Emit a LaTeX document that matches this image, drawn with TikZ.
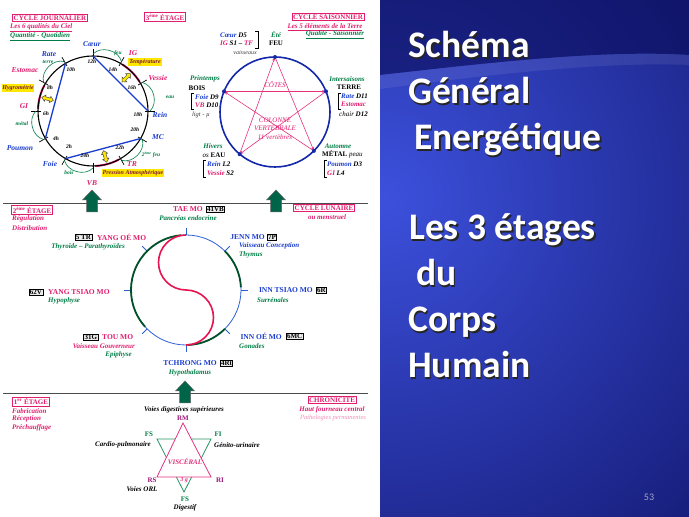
\documentclass[tikz,border=0pt]{standalone}
\usepackage{fontspec}
\setmainfont{Liberation Serif}
\newfontfamily\titlefont{Carlito}
\usetikzlibrary{calc,arrows.meta}
\definecolor{pk}{RGB}{225,30,110}
\definecolor{bl}{RGB}{25,60,205}
\definecolor{gn}{RGB}{0,125,70}
\definecolor{dgn}{RGB}{0,80,40}
\definecolor{pu}{RGB}{155,20,120}
\definecolor{yl}{RGB}{255,232,0}
\definecolor{arrg}{RGB}{0,100,72}
\definecolor{dbl}{RGB}{20,40,170}
\definecolor{lbl}{RGB}{45,95,215}
\definecolor{bglight}{RGB}{60,80,220}
\definecolor{bgdark}{RGB}{8,10,85}
\definecolor{spk}{RGB}{228,50,125}
\definecolor{stg}{RGB}{40,150,100}
\definecolor{rds}{RGB}{230,20,80}
\newcommand\fs[1]{\fontsize{#1}{#1}\selectfont}
\newcommand\garrow[2]{\draw[garr] (#1-5.5,#2) -- (#1+5.5,#2) -- (#1+5.5,#2+12) -- (#1+9.5,#2+12) -- (#1,#2+22) -- (#1-9.5,#2+12) -- (#1-5.5,#2+12) -- cycle;}
\tikzset{
  t/.style={inner sep=0pt, font=\fs{7}\bfseries\itshape},
  tp/.style={t, text=pk},
  tb/.style={t, text=bl},
  tg/.style={t, text=gn},
  tn/.style={inner sep=0pt, font=\fs{6.5}\itshape, text=black!75},
  up/.style={inner sep=0pt, font=\fs{7}\bfseries},
  org/.style={inner sep=0pt, font=\fs{7.5}\bfseries\itshape},
  hr/.style={inner sep=0pt, font=\fs{5.5}\bfseries\itshape, text=black},
  gsm/.style={inner sep=0pt, font=\fs{5.5}\bfseries\itshape, text=gn},
  hl/.style={fill=yl, inner sep=0.8pt, font=\fs{6}\bfseries\itshape, text=pk!55!black},
  ttl/.style={draw=pk, line width=0.6pt, fill=white, text=pk, font=\fs{7}\bfseries, inner sep=1.2pt},
  code/.style={draw=black, line width=0.5pt, fill=black!8, text=black, font=\fs{7}\bfseries, inner sep=0.8pt},
  mo/.style={inner sep=0pt, font=\fs{7.5}\bfseries},
  big/.style={anchor=base west, inner sep=0pt, text=white, font=\titlefont\fs{37.5}\bfseries},
  bigsh/.style={big, text=black!85},
  tickl/.style={line width=0.7pt},
  chord/.style={bl, line width=1.3pt},
  redarc/.style={pk, line width=2pt},
  garc/.style={gn, line width=0.6pt},
  yarr/.style={fill=yl, draw=black!70, line width=0.5pt},
  garr/.style={fill=arrg, draw=black!60, line width=0.5pt},
  penta/.style={spk, line width=0.6pt, -{Stealth[length=4pt,width=3pt]}},
  brk/.style={black, line width=0.5pt},
  inner/.style={inner sep=0pt, font=\fs{7}\itshape, text=pk},
}
\begin{document}
\begin{tikzpicture}[x=1pt,y=1pt]
\useasboundingbox (0,0) rectangle (689,517);
\fill[white] (0,0) rectangle (380,517);
% ---------- right panel background ----------
\begin{scope}
  \clip (380,0) rectangle (689,517);
  \fill[bgdark] (380,0) rectangle (689,517);
  \shade[inner color=bglight, outer color=bgdark] (385,320) circle (620);
  \fill[bgdark, opacity=0.6] (380,517) -- (689,517) -- (689,462) .. controls (600,468) and (470,452) .. (380,442) -- cycle;
  \fill[white, opacity=0.08] (380,442) .. controls (470,452) and (600,468) .. (689,462) -- (689,452) .. controls (600,456) and (470,440) .. (380,428) -- cycle;
\end{scope}
\foreach \txt/\xx/\yy [count=\i] in {Schéma/408/459, Général/408/413, Energétique/414/367, Les 3 étages/409/277, du/416/231, Corps/408/185, Humain/408/139}{
  \node[bigsh] at (\xx+1.5,\yy-1.5) {\txt};
  \node[big] (title\i) at (\xx,\yy) {\txt};
}
\node[font=\titlefont\fs{10}, text={rgb,255:red,160;green,165;blue,195}] (pg) at (649,20) {53};
% ---------- separators and arrows ----------
\coordinate (l1a) at (3,314); \coordinate (l1b) at (368,314);
\coordinate (l2a) at (3,124); \coordinate (l2b) at (368,124);
\draw[black!70, line width=0.8pt] (l1a) -- (l1b);
\draw[black!70, line width=0.8pt] (l2a) -- (l2b);
\garrow{92}{305}
\garrow{276}{305}
\garrow{185}{114}
% ---------- 3rd stage: daily cycle ----------
\node[ttl] (cj) at (50,499) {CYCLE JOURNALIER};
\node[tp, anchor=west] (cj2) at (10,489) {\underline{Les 6 qualités du Ciel}};
\node[tg, anchor=west] (cj3) at (10,480) {\underline{Quantité - Quotidien}};
\node[ttl] (e3) at (165,500) {3\textsuperscript{ème} ÉTAGE};
\coordinate (D) at (93,406);
\draw[redarc] ($(D)+(32:55)$) arc[start angle=32,end angle=58,radius=55];
\draw[redarc] ($(D)+(152:55)$) arc[start angle=152,end angle=178,radius=55];
\draw[redarc] ($(D)+(272:55)$) arc[start angle=272,end angle=298,radius=55];
\draw[black, line width=1.1pt] (D) circle (55);
\foreach \a in {0,30,...,330} \draw[tickl] ($(D)+(\a:52)$) -- ($(D)+(\a:62)$);
\foreach \n/\a in {Coeur/90, Rein/0, Rate/120, Poumon/210, Foie/240, MC/330} \coordinate (h\n) at ($(D)+(\a:55)$);
\draw[chord] (hCoeur) -- (hRein);
\draw[chord] (hRate) -- (hPoumon);
\draw[chord] (hFoie) -- (hMC);
\foreach \a/\b in {90/60, 30/0, -30/-60, -90/-120, -150/-180, 150/120}
  \draw[garc] ($(D)+(\a:57)$) .. controls ($(D)+(\a-7:66)$) and ($(D)+(\b+7:66)$) .. ($(D)+(\b:57)$);
\foreach \a in {45,165,285}
  \draw[yarr, shift={($(D)+(\a:47)$)}, rotate=\a] (-6,0) -- (-2.5,3.2) -- (-2.5,1.5) -- (2.5,1.5) -- (2.5,3.2) -- (6,0) -- (2.5,-3.2) -- (2.5,-1.5) -- (-2.5,-1.5) -- (-2.5,-3.2) -- cycle;
\node[org, text=bl] (coeur) at (92,473) {Cœur};
\node[org, text=pk] (ig) at (133,464) {IG};
\node[gsm] (feu1) at (118,464) {feu};
\node[hl] (temp) at (145,455) {Température};
\node[org, text=pk] (vessie) at (158,439) {Vessie};
\node[gsm] (eau1) at (170,420) {eau};
\node[org, text=bl] (rein) at (160,402) {Rein};
\node[org, text=bl] (mc) at (158,380) {MC};
\node[gsm] (feu2) at (151,362) {2\textsuperscript{ème} feu};
\node[org, text=pk] (tr) at (132,353) {TR};
\node[hl] (pa) at (133,344) {Pression Atmosphérique};
\node[org, text=pk] (vb) at (92,334) {VB};
\node[gsm] (bois1) at (69,344) {bois};
\node[org, text=bl] (foie) at (50,353) {Foie};
\node[org, text=bl] (poumon) at (20,369) {Poumon};
\node[gsm] (metal1) at (22,393) {métal};
\node[org, text=pk] (gi) at (24,411) {GI};
\node[hl] (hyg) at (18,429) {Hygrométrie};
\node[org, text=pk] (estomac) at (25,447) {Estomac};
\node[gsm] (terre1) at (48,455) {terre};
\node[org, text=bl] (rate) at (49,463) {Rate};
\foreach \h/\x/\y in {12h/92/455, 14h/113/447, 16h/132/429, 18h/138/402, 20h/135/387, 22h/120/369, 24h/85/361, 2h/69/370, 4h/56/378, 6h/46/403, 8h/50/429, 10h/71/447}
  \node[hr] (hr\h) at (\x,\y) {\h};
% ---------- 3rd stage: seasonal cycle ----------
\node[ttl] (cs) at (328,500) {CYCLE SAISONNIER};
\node[tp] (cs2) at (325,490) {\underline{Les 5 éléments de la Terre}};
\node[tg] (cs3) at (335,482) {\underline{Qualité - Saisonnier}};
\coordinate (S) at (275,405);
\draw[dbl, line width=1.6pt] (S) circle (55);
\foreach \n/\a in {feu/90, terre/22, metal/-45, eau/-130, bois/158} \coordinate (p\n) at ($(S)+(\a:55)$);
\draw[penta] (pfeu) -- (pmetal);
\draw[penta] (pmetal) -- (pbois);
\draw[penta] (pbois) -- (pterre);
\draw[penta] (pterre) -- (peau);
\draw[penta] (peau) -- (pfeu);
\foreach \n in {feu,terre,metal,eau,bois} \fill[dbl] (p\n) circle (2);
\node[inner] (cotes) at (275,432) {CÔTES};
\node[inner] (col1) at (275,397) {COLONNE};
\node[inner] (col2) at (275,389) {VERTÉBRALE};
\node[inner] (col3) at (275,380) {11 vertèbres};
\node[t, anchor=west] (c5) at (220,482) {\textcolor{bl}{Cœur} D5};
\node[t, anchor=west] (ig5) at (220,474) {\textcolor{pk}{IG} S1 -- \textcolor{pk}{TF}};
\draw[brk] (255,486) -- (258,486) -- (258,469) -- (255,469);
\node[tg] (ete) at (276,482) {Été};
\node[up] (feu) at (276,474) {FEU};
\node[tn, font=\fs{6}\itshape] (vais) at (245,464) {vaisseaux};
\node[tg] (print) at (205,438) {Printemps};
\node[up] (bois) at (197,429) {BOIS};
\draw[brk] (194,424) -- (191,424) -- (191,408) -- (194,408);
\node[t, anchor=west] (foie9) at (195,420) {\textcolor{bl}{Foie} D9};
\node[t, anchor=west] (vb10) at (195,412) {\textcolor{pk}{VB} D10};
\node[tn] (ligt) at (201,402) {ligt - µ};
\node[tg] (inter) at (347,438) {Intersaisons};
\node[up] (terre) at (349,430) {TERRE};
\draw[brk] (341,424) -- (338,424) -- (338,408) -- (341,408);
\node[t, anchor=west] (rate11) at (341,421) {\textcolor{bl}{Rate} D11};
\node[tp, anchor=west] (est12) at (341,413) {Estomac};
\node[t, anchor=west] (chair) at (339,403) {{\mdseries chair} D12};
\node[tg] (hiv) at (213,371) {Hivers};
\node[up] (eau) at (214,362) {{\mdseries\itshape os} EAU};
\draw[brk] (206,357) -- (203,357) -- (203,340) -- (206,340);
\node[t, anchor=west] (reinl2) at (207,353) {\textcolor{bl}{Rein} L2};
\node[t, anchor=west] (vesss2) at (207,344) {\textcolor{pk}{Vessie} S2};
\node[tg] (aut) at (338,371) {Automne};
\node[up, anchor=west] (metal) at (322,363) {MÉTAL {\mdseries\itshape peau}};
\draw[brk] (327,357) -- (324,357) -- (324,340) -- (327,340);
\node[t, anchor=west] (poud3) at (327,353) {\textcolor{bl}{Poumon} D3};
\node[t, anchor=west] (gil4) at (327,344) {\textcolor{pk}{GI} L4};
% ---------- 2nd stage ----------
\node[ttl] (e2) at (32,307) {2\textsuperscript{ème} ÉTAGE};
\node[tp, anchor=west] (reg) at (12,298) {Régulation};
\node[tp, anchor=west] (dis) at (12,289) {Distribution};
\node[ttl] (cl) at (324,309) {CYCLE LUNAIRE};
\node[tp] (men) at (327,300) {ou menstruel};
\coordinate (L) at (186,227);
\draw[lbl, line width=0.8pt] (L) circle (55);
\foreach \a in {0,45,...,315} \draw[lbl, line width=0.8pt] ($(L)+(\a:55)$) -- ($(L)+(\a:62)$);
\draw[dgn, line width=1.8pt] ($(L)+(95:55)$) arc[start angle=95,end angle=222,radius=55];
\draw[dgn, line width=1.8pt] ($(L)+(45:55)$) arc[start angle=45,end angle=3,radius=55];
\draw[dgn, line width=1.8pt] ($(L)+(-45:55)$) arc[start angle=-45,end angle=-88,radius=55];
\draw[rds, line width=1.6pt] ($(L)+(90:55)$) arc[start angle=90,end angle=270,radius=27.5] arc[start angle=90,end angle=-90,radius=27.5];
\node[mo, text=pk, anchor=east] (tae) at (203,308) {TAE MO};
\node[code, anchor=west] (c41) at (206,308) {41VB};
\node[tg] (panc) at (188,299) {Pancréas endocrine};
\node[mo, text=bl, anchor=east] (jenn) at (265,280) {JENN MO};
\node[code, anchor=west] (c7) at (267,280) {7P};
\node[tb, anchor=west] (vc) at (239,271) {Vaisseau Conception};
\node[tg, anchor=west] (thy) at (239,262) {Thymus};
\node[mo, text=bl, anchor=east] (its) at (313,227) {INN TSIAO MO};
\node[code, anchor=west] (c6) at (316,227) {6R};
\node[tg, anchor=west] (sur) at (257,217) {Surrénales};
\node[mo, text=bl, anchor=east] (ioe) at (282,181) {INN OÉ MO};
\node[code, anchor=west] (c6mc) at (286,181) {6MC};
\node[tg, anchor=west] (gon) at (239,171) {Gonades};
\node[mo, text=bl, anchor=east] (tch) at (217,154) {TCHRONG MO};
\node[code, anchor=west] (c4) at (220,154) {4Rt};
\node[tg] (hypo) at (190,144) {Hypothalamus};
\node[code, anchor=east] (c5tr) at (92,280) {5 TR};
\node[mo, text=pk, anchor=west] (yoe) at (97,280) {YANG OÉ MO};
\node[tg] (thyr) at (88,270) {Thyroïde -- Parathyroïdes};
\node[code, anchor=east] (c62) at (43,225) {62V};
\node[mo, text=pk, anchor=west] (yts) at (48,225) {YANG TSIAO MO};
\node[tg, anchor=west] (hyp) at (48,216) {Hypophyse};
\node[code, anchor=east] (c31) at (98,180) {31G};
\node[mo, text=pk, anchor=west] (tou) at (102,180) {TOU MO};
\node[tp, anchor=east] (vg) at (135,171) {Vaisseau Gouverneur};
\node[tg, anchor=east] (epi) at (132,162) {Epiphyse};
% ---------- 1st stage ----------
\node[ttl] (e1) at (31,115) {1\textsuperscript{er} ÉTAGE};
\node[tp, anchor=west] (fab) at (12,106) {Fabrication};
\node[tp, anchor=west] (rec) at (12,98) {Réception};
\node[tp, anchor=west] (pre) at (12,89) {Préchauffage};
\node[ttl] (chro) at (332,117) {CHRONICITE};
\node[tp] (hfc) at (332,107) {Haut fourneau central};
\node[inner sep=0pt, font=\fs{6.5}\itshape, text=pk!50] (patho) at (333,99) {Pathologies permanentes};
\coordinate (rm) at (183,94); \coordinate (rs) at (157,40); \coordinate (ri) at (211,40);
\coordinate (fs1) at (157,78); \coordinate (fi) at (211,78); \coordinate (fs2) at (184,25);
\draw[stg, line width=0.8pt] (fs1) -- (fi) -- (fs2) -- cycle;
\filldraw[fill=white, draw=spk, line width=0.8pt] (rm) -- (rs) -- (ri) -- cycle;
\node[t] (vds) at (184,107) {Voies digestives supérieures};
\node[up, text=pu] (RM) at (183,99) {RM};
\node[up, text=gn] (FS1) at (149,83) {FS};
\node[up, text=gn] (FI) at (218,83) {FI};
\node[t] (cp) at (123,72) {Cardio-pulmonaire};
\node[t] (gu) at (237,72) {Génito-urinaire};
\node[inner sep=0pt, font=\fs{7}\bfseries\itshape, text=spk] (visc) at (185,55) {VISCÉRAL};
\node[inner sep=0pt, font=\fs{6}\bfseries\itshape, text=spk] (trois) at (184,37) {3 g};
\node[up, text=pu] (RS) at (152,37) {RS};
\node[up, text=pu] (RI) at (220,37) {RI};
\node[t] (orl) at (142,28) {Voies ORL};
\node[up, text=gn] (FS2) at (185,18) {FS};
\node[t] (dig) at (185,9) {Digestif};
\end{tikzpicture}
\end{document}
